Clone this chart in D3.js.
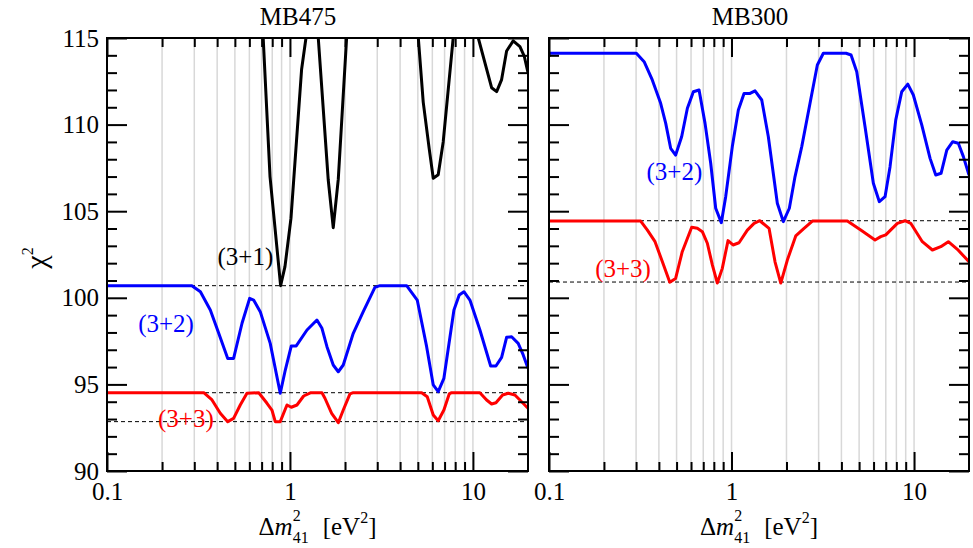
<!DOCTYPE html>
<html>
<head>
<meta charset="utf-8">
<script src="https://cdn.jsdelivr.net/npm/d3@7"></script>
<style>
  body { margin: 0; background: #fff; }
  #chart, #chart text, #chart tspan { font-family: "Liberation Serif", "Times New Roman", Times, serif !important; }
</style>
</head>
<body>
<svg id="chart" width="973" height="548"></svg>
<script>

// tick values
var xMajorTicks = [0.1, 1, 10];
var xTickLabels = ["0.1", "1", "10"];
var xMinorTicks = [0.2, 0.3, 0.4, 0.5, 0.6, 0.7, 0.8, 0.9, 2, 3, 4, 5, 6, 7, 8, 9];
var gridTicks = [0.2, 0.3, 0.4, 0.5, 0.6, 0.7, 0.8, 0.9, 1, 2, 3, 4, 5, 6, 7, 8, 9, 10];
var yMajorTicks = [90, 95, 100, 105, 110, 115];
var yMinorTicks = [91, 92, 93, 94, 96, 97, 98, 99, 101, 102, 103, 104, 106, 107, 108, 109, 111, 112, 113, 114];

// MB475 : [dm2_41 (eV^2), chi2]
var mb475_31 = [[0.65, 121], [0.714, 115], [0.778, 107.0], [0.889, 100.7], [0.939, 101.8], [1.013, 104.6],
  [1.158, 113.2], [1.223, 115], [1.30, 119], [1.36, 119], [1.428, 115], [1.619, 106.8], [1.724, 104.05],
  [1.837, 106.85], [2.04, 115], [2.3, 121], [4.4, 121], [5.03, 115], [5.35, 111.3], [5.77, 108.6],
  [6.07, 106.9], [6.46, 107.1], [6.88, 109.0], [7.80, 115], [8.6, 121], [9.8, 121], [10.7, 115],
  [12.65, 112.13], [13.48, 111.9], [14.35, 112.6], [15.28, 114.25], [16.6, 114.83], [18.07, 114.5],
  [19.07, 113.96], [20, 113.0]];

var mb475_32 = [[0.1, 100.7], [0.291, 100.7], [0.324, 100.35], [0.367, 99.3], [0.408, 97.95], [0.457, 96.5],
  [0.492, 96.5], [0.547, 98.53], [0.602, 99.97], [0.633, 99.87], [0.688, 99.2], [0.780, 97.37], [0.885, 94.49],
  [0.943, 95.83], [1.017, 97.22], [1.082, 97.22], [1.239, 98.14], [1.404, 98.72], [1.496, 98.24], [1.593, 97.18],
  [1.724, 96.12], [1.837, 95.73], [1.956, 96.12], [2.218, 97.95], [2.515, 99.2], [2.913, 100.6], [3.103, 100.7],
  [4.342, 100.7], [4.962, 99.87], [5.585, 97.18], [6.07, 94.97], [6.46, 94.58], [6.94, 95.35], [7.875, 99.3],
  [8.416, 100.16], [8.93, 100.35], [9.63, 99.87], [10.92, 98.14], [12.5, 96.06], [13.36, 96.06], [14.35, 96.56],
  [15.28, 97.72], [16.27, 97.75], [17.68, 97.37], [18.83, 96.70], [20, 95.93]];

var mb475_33 = [[0.1, 94.52], [0.338, 94.52], [0.375, 94.1], [0.416, 93.33], [0.457, 92.85], [0.492, 93.04],
  [0.535, 93.81], [0.582, 94.49], [0.675, 94.52], [0.749, 93.91], [0.797, 93.52], [0.831, 92.85], [0.885, 92.85],
  [0.963, 93.81], [1.017, 93.68], [1.092, 93.81], [1.188, 94.33], [1.302, 94.52], [1.496, 94.52], [1.553, 94.2],
  [1.690, 93.33], [1.837, 92.79], [1.956, 93.52], [2.128, 94.45], [2.218, 94.52], [5.245, 94.52], [5.628, 94.29],
  [6.07, 93.23], [6.46, 92.9], [6.94, 93.52], [7.42, 94.45], [7.65, 94.52], [10.92, 94.52], [11.88, 94.1],
  [12.65, 93.87], [13.36, 93.94], [14.53, 94.39], [15.59, 94.49], [16.96, 94.39], [18.07, 94.1], [20, 93.62]];

var mb475Levels = [100.7, 94.52, 92.85];

// MB300
var mb300_32 = [[0.1, 114.12], [0.301, 114.12], [0.332, 113.63], [0.368, 112.58], [0.409, 111.23], [0.436, 110.07],
  [0.464, 108.63], [0.494, 108.24], [0.533, 109.3], [0.573, 110.94], [0.618, 111.9], [0.664, 112.0], [0.716, 110.07],
  [0.769, 107.77], [0.819, 105.17], [0.879, 104.34], [0.929, 105.84], [1.010, 108.73], [1.090, 110.84], [1.171, 111.8],
  [1.263, 111.8], [1.345, 111.95], [1.464, 111.42], [1.591, 109.3], [1.782, 105.46], [1.922, 104.4], [2.074, 105.17],
  [2.228, 107.0], [2.425, 108.73], [2.692, 111.23], [2.952, 113.44], [3.184, 114.12], [4.241, 114.12], [4.517, 114.02],
  [4.853, 113.05], [5.389, 109.88], [5.984, 106.61], [6.454, 105.55], [6.936, 105.84], [7.387, 107.57], [7.94, 110.27],
  [8.56, 111.9], [9.24, 112.34], [9.91, 111.71], [11.02, 109.98], [12.24, 108.05], [13.15, 107.09], [14.06, 107.19],
  [15.11, 108.53], [16.29, 109.01], [17.48, 108.92], [18.63, 108.15], [20, 107.09]];

var mb300_33 = [[0.1, 104.43], [0.318, 104.43], [0.346, 103.91], [0.381, 103.24], [0.418, 102.08], [0.459, 100.9],
  [0.494, 101.12], [0.537, 102.66], [0.605, 104.07], [0.650, 104.01], [0.692, 103.82], [0.737, 103.15], [0.785, 101.9],
  [0.836, 100.85], [0.890, 101.7], [0.957, 103.3], [1.019, 103.05], [1.099, 103.18], [1.221, 103.91], [1.329, 104.3],
  [1.428, 104.45], [1.605, 104.01], [1.731, 102.08], [1.861, 100.85], [2.022, 102.18], [2.248, 103.57], [2.496, 104.01],
  [2.772, 104.43], [4.311, 104.43], [5.105, 103.91], [6.113, 103.34], [6.57, 103.53], [6.998, 103.63], [8.1, 104.3],
  [8.927, 104.45], [9.59, 104.3], [11.1, 103.24], [12.6, 102.76], [14.01, 102.95], [15.41, 103.24], [17.27, 102.8],
  [20, 102.08]];

var mb300Levels = [104.45, 100.91];

var plotTop = 38, plotBottom = 471;
var serif = '"Liberation Serif", "Times New Roman", Times, serif';

var panels = [
  {
    title: "MB475", titleX: 298, left: 107, right: 528, yLabels: true, levels: mb475Levels,
    curves: [
      { data: mb475_31, color: "#000000" },
      { data: mb475_32, color: "#0000ff" },
      { data: mb475_33, color: "#ff0000" }
    ],
    labels: [
      { text: "(3+1)", x: 0.81, y: 101.9, anchor: "end", color: "#000000" },
      { text: "(3+2)", x: 0.148, y: 98.04, anchor: "start", color: "#0000ff" },
      { text: "(3+3)", x: 0.19, y: 92.56, anchor: "start", color: "#ff0000" }
    ]
  },
  {
    title: "MB300", titleX: 750, left: 549, right: 969, yLabels: false, levels: mb300Levels,
    curves: [
      { data: mb300_32, color: "#0000ff" },
      { data: mb300_33, color: "#ff0000" }
    ],
    labels: [
      { text: "(3+2)", x: 0.342, y: 106.8, anchor: "start", color: "#0000ff" },
      { text: "(3+3)", x: 0.179, y: 101.22, anchor: "start", color: "#ff0000" }
    ]
  }
];

var svg = d3.select("#chart").attr("font-family", serif);

var y = d3.scaleLinear().domain([90, 115]).range([plotBottom, plotTop]);

function styleAxis(sel, fontSize){
  sel.attr("font-family", serif).attr("font-size", fontSize);
  sel.select(".domain").remove();
  sel.selectAll(".tick line").attr("stroke", "#000").attr("stroke-width", 2);
  sel.selectAll("text").attr("fill", "#000");
}

panels.forEach(function (p, i){

  var x = d3.scaleLog().domain([0.1, 20]).range([p.left, p.right]);
  var g = svg.append("g");

  g.append("clipPath").attr("id", "clip" + i)
    .append("rect")
    .attr("x", p.left).attr("y", plotTop)
    .attr("width", p.right - p.left).attr("height", plotBottom - plotTop);

  // light vertical grid
  g.append("g").selectAll("line").data(gridTicks).enter().append("line")
    .attr("x1", x).attr("x2", x)
    .attr("y1", plotTop).attr("y2", plotBottom)
    .attr("stroke", "#d8d8d8")
    .attr("stroke-width", 1.5);

  // dashed minimum levels
  g.append("g").selectAll("line").data(p.levels).enter().append("line")
    .attr("x1", p.left).attr("x2", p.right)
    .attr("y1", y).attr("y2", y)
    .attr("stroke", "#000")
    .attr("stroke-width", 1)
    .attr("stroke-dasharray", "4,3");

  var line = d3.line()
    .x(function (d){ return x(d[0]); })
    .y(function (d){ return y(d[1]); });

  g.append("g").attr("clip-path", "url(#clip" + i + ")")
    .selectAll("path").data(p.curves).enter().append("path")
    .attr("d", function (c){ return line(c.data); })
    .attr("fill", "none")
    .attr("stroke", function (c){ return c.color; })
    .attr("stroke-width", 3)
    .attr("stroke-linejoin", "round");

  g.selectAll(".series-label").data(p.labels).enter().append("text")
    .attr("class", "series-label")
    .attr("x", function (d){ return x(d.x); })
    .attr("y", function (d){ return y(d.y); })
    .attr("text-anchor", function (d){ return d.anchor; })
    .attr("fill", function (d){ return d.color; })
    .attr("font-size", 25)
    .text(function (d){ return d.text; });

  // x axes (bottom with labels, top mirrored)
  g.append("g").attr("transform", "translate(0," + plotBottom + ")")
    .call(d3.axisBottom(x).tickValues(xMajorTicks).tickSize(-19).tickPadding(11)
      .tickFormat(function (d, k){ return xTickLabels[k]; }))
    .call(styleAxis, 25);
  g.append("g").attr("transform", "translate(0," + plotBottom + ")")
    .call(d3.axisBottom(x).tickValues(xMinorTicks).tickSize(-9).tickFormat(""))
    .call(styleAxis, 25);
  g.append("g").attr("transform", "translate(0," + plotTop + ")")
    .call(d3.axisTop(x).tickValues(xMajorTicks).tickSize(-19).tickFormat(""))
    .call(styleAxis, 25);
  g.append("g").attr("transform", "translate(0," + plotTop + ")")
    .call(d3.axisTop(x).tickValues(xMinorTicks).tickSize(-9).tickFormat(""))
    .call(styleAxis, 25);

  // y axes
  g.append("g").attr("transform", "translate(" + p.left + ",0)")
    .call(d3.axisLeft(y).tickValues(yMajorTicks).tickSize(-20).tickPadding(8)
      .tickFormat(p.yLabels ? d3.format("d") : ""))
    .call(styleAxis, 25);
  g.append("g").attr("transform", "translate(" + p.left + ",0)")
    .call(d3.axisLeft(y).tickValues(yMinorTicks).tickSize(-10).tickFormat(""))
    .call(styleAxis, 25);
  g.append("g").attr("transform", "translate(" + p.right + ",0)")
    .call(d3.axisRight(y).tickValues(yMajorTicks).tickSize(-20).tickFormat(""))
    .call(styleAxis, 25);
  g.append("g").attr("transform", "translate(" + p.right + ",0)")
    .call(d3.axisRight(y).tickValues(yMinorTicks).tickSize(-10).tickFormat(""))
    .call(styleAxis, 25);

  // frame
  g.append("rect")
    .attr("x", p.left).attr("y", plotTop)
    .attr("width", p.right - p.left).attr("height", plotBottom - plotTop)
    .attr("fill", "none").attr("stroke", "#000").attr("stroke-width", 2);

  // title
  g.append("text")
    .attr("x", p.titleX).attr("y", 25)
    .attr("text-anchor", "middle")
    .attr("font-size", 25)
    .text(p.title);

  // x axis title: Δm²₄₁ [eV²]
  var xt = g.append("text")
    .attr("x", (p.left + p.right) / 2).attr("y", 535)
    .attr("text-anchor", "middle")
    .attr("font-size", 25);
  xt.append("tspan").text("\u0394");
  xt.append("tspan").attr("font-style", "italic").text("m");
  xt.append("tspan").attr("dy", -14).attr("font-size", 16).text("2");
  xt.append("tspan").attr("dx", -8).attr("dy", 22).attr("font-size", 16).text("41");
  xt.append("tspan").attr("dx", 14).attr("dy", -8).text("[eV");
  xt.append("tspan").attr("dy", -12).attr("font-size", 16).text("2");
  xt.append("tspan").attr("dy", 12).text("]");
});

// y axis title
var yt = svg.append("text")
  .attr("transform", "translate(46,258) rotate(-90)")
  .attr("text-anchor", "middle")
  .attr("font-size", 30);
yt.append("tspan").text("\u03c7");
yt.append("tspan").attr("dy", -13).attr("font-size", 16).text("2");

</script>
</body>
</html>
